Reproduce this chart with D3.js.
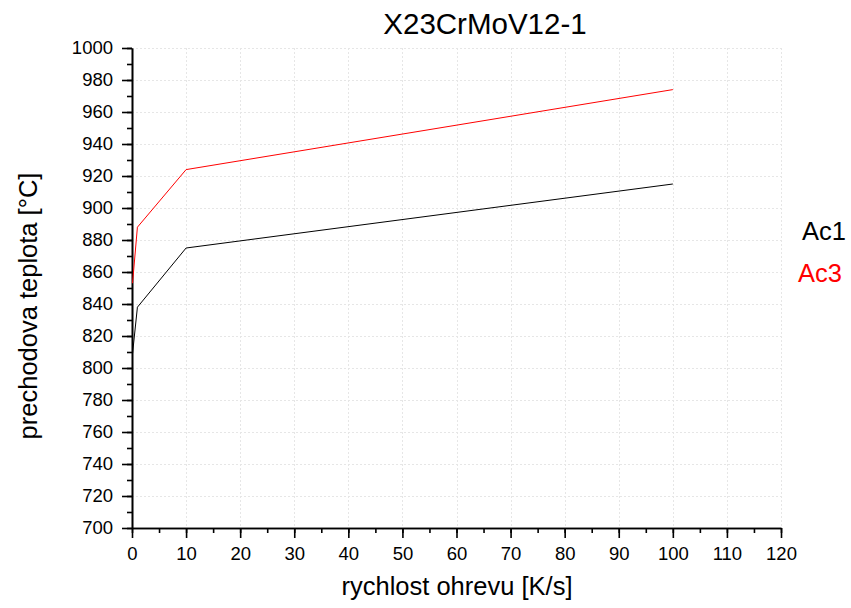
<!DOCTYPE html>
<html>
<head>
<meta charset="utf-8">
<script src="https://cdn.jsdelivr.net/npm/d3@7/dist/d3.min.js"></script>
<style>
  body { margin: 0; background: #fff; }
  svg { font-family: "Liberation Sans", Arial, sans-serif; }
</style>
</head>
<body>
<svg id="chart" width="851" height="608"></svg>
<script>
// Heating rate [K/s] and transformation temperatures [°C]
const rate = [0.1, 1, 10, 100];
const ac1 = [809, 838, 875, 915];
const ac3 = [853, 888, 924, 974];
const xTicks = [0, 10, 20, 30, 40, 50, 60, 70, 80, 90, 100, 110, 120];
const yTicks = [700, 720, 740, 760, 780, 800, 820, 840, 860, 880, 900, 920, 940, 960, 980, 1000];

const svg = d3.select("#chart");
const m = { left: 132, right: 781, top: 48, bottom: 528 };

const x = d3.scaleLinear().domain([0, 120]).range([m.left, m.right]);
const y = d3.scaleLinear().domain([700, 1000]).range([m.bottom, m.top]);

// faint dotted grid
const grid = svg.append("g").attr("stroke", "#e6e6e6").attr("stroke-width", 1).attr("stroke-dasharray", "2,2");
grid.selectAll("line.h").data(yTicks.slice(1)).join("line")
  .attr("x1", m.left).attr("x2", m.right)
  .attr("y1", d => Math.round(y(d)) + 0.5).attr("y2", d => Math.round(y(d)) + 0.5);
grid.selectAll("line.v").data(xTicks.slice(1)).join("line")
  .attr("y1", m.top).attr("y2", m.bottom)
  .attr("x1", d => Math.round(x(d)) + 0.5).attr("x2", d => Math.round(x(d)) + 0.5);

// axes with minor ticks
const xMinor = d3.range(0, 121, 5);
const yMinor = d3.range(700, 1001, 10);

const xAxis = svg.append("g").attr("transform", `translate(0,${m.bottom})`);
xAxis.call(d3.axisBottom(x).tickValues(xMinor).tickFormat("").tickSize(5).tickSizeOuter(0));
xAxis.append("g").call(d3.axisBottom(x).tickValues(xTicks).tickFormat(d3.format("d")).tickSize(10).tickSizeOuter(0));

const yAxis = svg.append("g").attr("transform", `translate(${m.left},0)`);
yAxis.call(d3.axisLeft(y).tickValues(yMinor).tickFormat("").tickSize(5).tickSizeOuter(0));
yAxis.append("g").call(d3.axisLeft(y).tickValues(yTicks).tickFormat(d3.format("d")).tickSize(10).tickSizeOuter(0));

svg.selectAll(".domain").attr("stroke", "#000").attr("stroke-width", 1.6);
svg.selectAll(".tick line").attr("stroke", "#000").attr("stroke-width", 1.6);
svg.selectAll(".tick text").attr("fill", "#000").style("font-size", "18.5px")
  .style("font-family", "'Liberation Sans', Arial, sans-serif");
xAxis.selectAll(".tick text").attr("y", 19).attr("dy", "0.71em");
yAxis.selectAll(".tick text").attr("x", -19);

// series
const line = d3.line().x((d, i) => x(rate[i])).y(d => y(d));
svg.append("path").datum(ac1).attr("d", line).attr("fill", "none").attr("stroke", "#000").attr("stroke-width", 1);
svg.append("path").datum(ac3).attr("d", line).attr("fill", "none").attr("stroke", "#ff0000").attr("stroke-width", 1);

// titles
svg.append("text").attr("x", 485).attr("y", 34).attr("text-anchor", "middle")
  .style("font-size", "29.5px").text("X23CrMoV12-1");
svg.append("text").attr("x", 457).attr("y", 595).attr("text-anchor", "middle")
  .style("font-size", "25.5px").text("rychlost ohrevu [K/s]");
svg.append("text").attr("transform", "translate(37,306) rotate(-90)").attr("text-anchor", "middle")
  .style("font-size", "25.5px").text("prechodova teplota [°C]");

// legend
svg.append("text").attr("x", 802).attr("y", 240).style("font-size", "25.5px").attr("fill", "#000").text("Ac1");
svg.append("text").attr("x", 798).attr("y", 282).style("font-size", "25.5px").attr("fill", "#ff0000").text("Ac3");
</script>
</body>
</html>
